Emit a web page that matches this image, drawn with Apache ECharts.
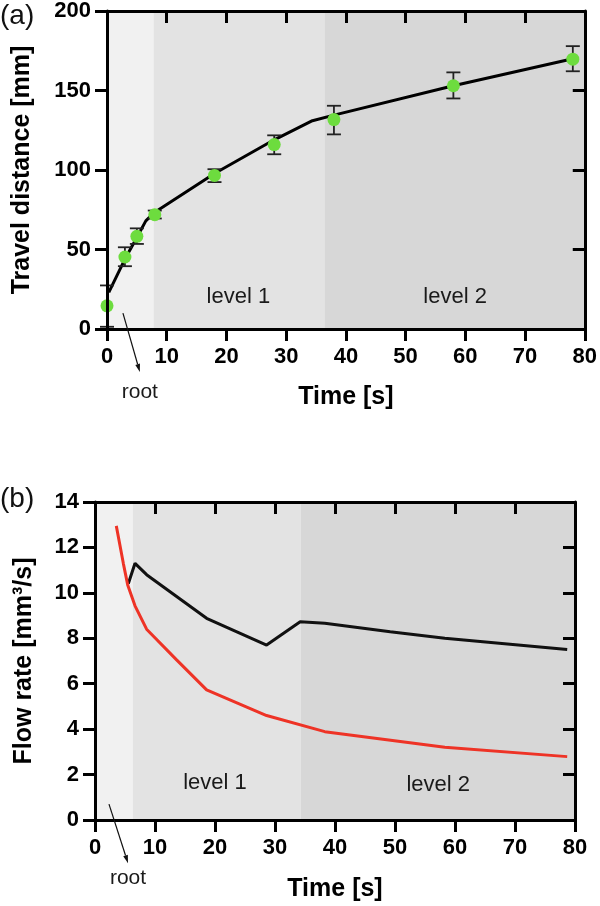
<!DOCTYPE html>
<html>
<head>
<meta charset="utf-8">
<script src="https://cdn.jsdelivr.net/npm/echarts@6/dist/echarts.min.js"></script>
<style>
html,body{margin:0;padding:0;background:#fff;}
#c{width:600px;height:906px;}
</style>
</head>
<body>
<div id="c"></div>
<script>
// ---------- data: panel (a) ----------
const xTicksA = [0, 10, 20, 30, 40, 50, 60, 70, 80];
const yTicksA = [0, 50, 100, 150, 200];
const measTime = [0, 3, 5, 8, 18, 28, 38, 58, 78];
const measDist = [14.6, 45.3, 58.3, 71.9, 96.6, 116, 131.7, 153, 169.7];
const measErrLo = [1.4, 39.5, 53.5, 69.5, 92.4, 109.9, 122.4, 145, 162.1];
const measErrHi = [27.4, 51.4, 63.3, 74.5, 100.5, 121.8, 140.4, 161.4, 177.9];
const fitTime = [0.3, 3, 5, 6.5, 8, 18, 28, 34.4, 38, 58, 78];
const fitDist = [23, 44, 57.5, 68, 73.5, 97.8, 119, 131, 134.5, 153, 170];
const regionsA = [[0, 7.8], [7.8, 36.5], [36.5, 80]];

// ---------- data: panel (b) ----------
const yTicksB = [0, 2, 4, 6, 8, 10, 12, 14];
const blackTime = [5.55, 6.67, 8.6, 18.6, 28.6, 34.2, 38.3, 49.2, 58.3, 78.7];
const blackFlow = [10.4, 11.3, 10.8, 8.88, 7.7, 8.73, 8.66, 8.29, 8.0, 7.51];
const redTime = [3.55, 4.72, 5.45, 6.67, 8.6, 13.6, 18.6, 28.6, 38.3, 58.3, 78.7];
const redFlow = [12.95, 11.3, 10.35, 9.43, 8.4, 7.05, 5.73, 4.6, 3.89, 3.2, 2.79];
const regionsB = [[0, 6.3], [6.3, 34.3], [34.3, 80]];

const regionColors = ['#f1f1f1', '#e3e3e3', '#d7d7d7'];
const FONT = 'Liberation Sans, Arial, sans-serif';

function zip(a, b) { return a.map((v, i) => [v, b[i]]); }

function mainX(gridIndex, name, gap) {
  return {
    gridIndex, type: 'value', position: 'bottom', min: xTicksA[0], max: xTicksA[xTicksA.length - 1], interval: 10,
    z: 10,
    name, nameLocation: 'middle', nameGap: gap,
    nameTextStyle: {fontFamily: FONT, fontWeight: 'bold', fontSize: 25, color: '#000', verticalAlign: 'top'},
    axisLine: {show: true, onZero: false, lineStyle: {color: '#000', width: 3}},
    axisTick: {show: true, inside: false, length: 12, lineStyle: {color: '#000', width: 3}},
    axisLabel: {show: true, margin: 17, fontFamily: FONT, fontWeight: 'bold', fontSize: 22, color: '#000'},
    splitLine: {show: false}
  };
}
function topX(gridIndex) {
  return {
    gridIndex, type: 'value', position: 'top', min: 0, max: 80, interval: 10, z: 10,
    axisLine: {show: true, onZero: false, lineStyle: {color: '#000', width: 3}},
    axisTick: {show: true, inside: true, length: 12, lineStyle: {color: '#000', width: 3}},
    axisLabel: {show: false}, splitLine: {show: false}
  };
}
function mainY(gridIndex, ticks, interval, name, gap) {
  return {
    gridIndex, type: 'value', position: 'left', min: ticks[0], max: ticks[ticks.length - 1], interval, z: 10,
    name, nameLocation: 'middle', nameGap: gap,
    nameTextStyle: {fontFamily: FONT, fontWeight: 'bold', fontSize: 25, color: '#000'},
    axisLine: {show: true, onZero: false, lineStyle: {color: '#000', width: 3}},
    axisTick: {show: true, inside: false, length: 12, lineStyle: {color: '#000', width: 3}},
    axisLabel: {show: true, margin: 16, fontFamily: FONT, fontWeight: 'bold', fontSize: 22, color: '#000'},
    splitLine: {show: false}
  };
}
function rightY(gridIndex, ticks, interval) {
  return {
    gridIndex, type: 'value', position: 'right', min: ticks[0], max: ticks[ticks.length - 1], interval, z: 10,
    axisLine: {show: true, onZero: false, lineStyle: {color: '#000', width: 3}},
    axisTick: {show: true, inside: true, length: 12, lineStyle: {color: '#000', width: 3}},
    axisLabel: {show: false}, splitLine: {show: false}
  };
}

function bgSeries(xi, yi, regions) {
  return {
    type: 'custom', xAxisIndex: xi, yAxisIndex: yi, z: 1, silent: true,
    data: regions.map((r, i) => [r[0], r[1], i]),
    renderItem: function (params, api) {
      const cs = params.coordSys;
      const p0 = api.coord([api.value(0), 0]);
      const p1 = api.coord([api.value(1), 0]);
      return {
        type: 'rect',
        shape: {x: p0[0], y: cs.y, width: p1[0] - p0[0], height: cs.height},
        style: {fill: regionColors[api.value(2)]}
      };
    }
  };
}

const chart = echarts.init(document.getElementById('c'), null, {renderer: 'canvas'});

const option = {
  animation: false,
  backgroundColor: '#fff',
  grid: [
    {left: 107, top: 10, width: 480, height: 319},
    {left: 95, top: 502, width: 480, height: 318}
  ],
  xAxis: [mainX(0, 'Time [s]', 56), topX(0), mainX(1, 'Time [s]', 57), topX(1)],
  yAxis: [
    mainY(0, yTicksA, 50, 'Travel distance [mm]', 72), rightY(0, yTicksA, 50),
    mainY(1, yTicksB, 2, 'Flow rate [mm³/s]', 58), rightY(1, yTicksB, 2)
  ],
  series: [
    bgSeries(0, 0, regionsA),
    bgSeries(2, 2, regionsB),
    {
      type: 'line', xAxisIndex: 0, yAxisIndex: 0, z: 3, data: zip(fitTime, fitDist),
      symbol: 'none', lineStyle: {color: '#000', width: 3}, silent: true
    },
    {
      type: 'custom', xAxisIndex: 0, yAxisIndex: 0, z: 4, silent: true,
      data: measTime.map((t, i) => [t, measErrLo[i], measErrHi[i]]),
      renderItem: function (params, api) {
        const lo = api.coord([api.value(0), api.value(1)]);
        const hi = api.coord([api.value(0), api.value(2)]);
        const hw = 7;
        const st = {stroke: '#222', lineWidth: 1.8};
        return {
          type: 'group', children: [
            {type: 'line', shape: {x1: lo[0], y1: lo[1], x2: hi[0], y2: hi[1]}, style: st},
            {type: 'line', shape: {x1: lo[0] - hw, y1: lo[1], x2: lo[0] + hw, y2: lo[1]}, style: st},
            {type: 'line', shape: {x1: hi[0] - hw, y1: hi[1], x2: hi[0] + hw, y2: hi[1]}, style: st}
          ]
        };
      }
    },
    {
      type: 'scatter', xAxisIndex: 0, yAxisIndex: 0, z: 5, data: zip(measTime, measDist),
      symbol: 'circle', symbolSize: 13, itemStyle: {color: '#6ddc3e', opacity: 1}, silent: true
    },
    {
      type: 'line', xAxisIndex: 2, yAxisIndex: 2, z: 3, data: zip(blackTime, blackFlow),
      symbol: 'none', lineStyle: {color: '#111', width: 3}, silent: true
    },
    {
      type: 'line', xAxisIndex: 2, yAxisIndex: 2, z: 3, data: zip(redTime, redFlow),
      symbol: 'none', lineStyle: {color: '#ee3326', width: 3}, silent: true
    }
  ]
};
chart.setOption(option);

// annotations placed in data coordinates
function px(g, p) { return chart.convertToPixel({xAxisIndex: g === 0 ? 0 : 2, yAxisIndex: g === 0 ? 0 : 2}, p); }
function text(g, p, s, size) {
  const q = px(g, p);
  return {type: 'text', x: q[0], y: q[1], z: 50,
    style: {text: s, fontFamily: FONT, fontSize: size, fill: '#1a1a1a', align: 'center', verticalAlign: 'middle'}};
}
function arrow(g, a, b) {
  const p = px(g, a), q = px(g, b);
  const dx = q[0] - p[0], dy = q[1] - p[1];
  const L = Math.hypot(dx, dy), ux = dx / L, uy = dy / L;
  const hl = 8, hw = 2.4;
  const bx = q[0] - ux * hl, by = q[1] - uy * hl;
  return [
    {type: 'line', z: 50, shape: {x1: p[0], y1: p[1], x2: bx, y2: by}, style: {stroke: '#111', lineWidth: 1.2}},
    {type: 'polygon', z: 50, shape: {points: [[q[0], q[1]], [bx - uy * hw, by + ux * hw], [bx + uy * hw, by - ux * hw]]}, style: {fill: '#111'}}
  ];
}
const graphics = [
  text(0, [22, 20], 'level 1', 22),
  text(0, [58.3, 20], 'level 2', 22),
  text(0, [5.5, -39.5], 'root', 21),
  text(2, [20, 1.63], 'level 1', 22),
  text(2, [57.2, 1.54], 'level 2', 22),
  text(2, [5.5, -2.55], 'root', 21),
  ...arrow(0, [2.67, 10], [5.5, -27]),
  ...arrow(2, [2.33, 0.7], [5.5, -1.9]),
  {type: 'text', x: 0, y: 16, z: 50, style: {text: '(a)', fontFamily: FONT, fontSize: 28, fill: '#111', align: 'left', verticalAlign: 'middle'}},
  {type: 'text', x: 0, y: 499, z: 50, style: {text: '(b)', fontFamily: FONT, fontSize: 28, fill: '#111', align: 'left', verticalAlign: 'middle'}}
];
chart.setOption({graphic: graphics});
</script>
</body>
</html>
